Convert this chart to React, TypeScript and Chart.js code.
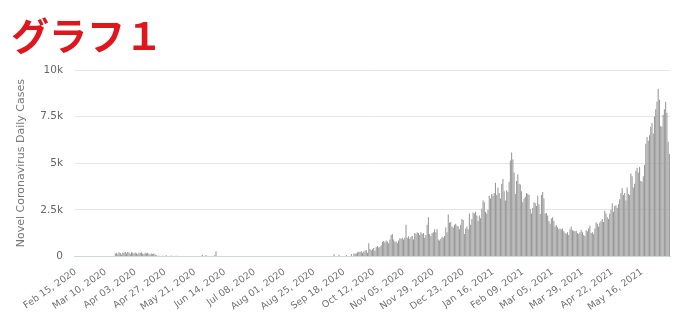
import React, { useEffect, useRef } from 'react';
import { Chart, registerables } from 'chart.js';

Chart.register(...registerables);

const startDate = '2020-02-15';

const feb2020 = [0, 0, 0, 0, 0, 0, 0, 0, 0, 0, 0, 0, 0, 0, 0];
const mar2020 = [0, 0, 0, 0, 0, 0, 0, 0, 0, 0, 0, 0, 0, 0, 0, 0, 0, 150, 200, 120, 220, 180, 100, 210, 190, 230, 150, 240, 200, 130, 220];
const apr2020 = [190, 150, 210, 170, 120, 200, 180, 220, 160, 110, 190, 170, 200, 140, 90, 150, 130, 160, 100, 60, 0, 50, 0, 0, 40, 0, 0, 60, 0, 0];
const may2020 = [0, 50, 0, 0, 0, 40, 0, 0, 0, 0, 0, 0, 0, 0, 0, 0, 0, 0, 0, 0, 0, 0, 0, 0, 0, 0, 90, 0, 0, 70, 0];
const jun2020 = [0, 0, 0, 0, 0, 60, 280, 0, 0, 0, 0, 0, 0, 0, 0, 0, 0, 0, 0, 0, 0, 0, 0, 0, 0, 0, 0, 0, 0, 0];
const jul2020 = [0, 0, 0, 0, 0, 0, 0, 0, 0, 0, 0, 0, 0, 0, 0, 0, 0, 0, 0, 0, 0, 0, 0, 0, 0, 0, 0, 0, 0, 0, 0];
const aug2020 = [0, 0, 0, 0, 0, 0, 0, 0, 0, 0, 0, 0, 0, 0, 0, 0, 0, 0, 0, 0, 0, 0, 0, 0, 0, 0, 0, 0, 0, 0, 0];
const sep2020 = [0, 0, 0, 0, 0, 0, 0, 0, 0, 120, 0, 0, 0, 90, 0, 0, 0, 0, 0, 80, 0, 0, 0, 130, 0, 150, 140, 160, 220, 250];
const oct2020 = [240, 280, 200, 260, 300, 350, 200, 700, 400, 330, 380, 450, 300, 500, 560, 480, 520, 600, 780, 820, 750, 850, 800, 700, 900, 1150, 1200, 900, 780, 800, 720];
const nov2020 = [850, 980, 950, 1000, 900, 1000, 1700, 1000, 1080, 950, 1050, 1100, 900, 1250, 1200, 1300, 1250, 1150, 1300, 1200, 1250, 1000, 1150, 1700, 2100, 1200, 1100, 1250, 1300, 1460];
const dec2020 = [1300, 1460, 900, 850, 950, 1050, 1000, 1100, 1550, 1300, 2250, 1800, 1850, 1600, 1550, 1700, 1750, 1650, 1600, 1460, 1700, 2000, 1950, 1200, 1500, 1600, 1450, 2300, 1700, 2000, 2350];
const jan2021 = [2300, 2400, 2200, 1900, 2200, 2050, 2550, 3000, 2900, 2400, 2300, 2500, 3250, 3100, 3350, 3250, 3400, 3950, 3300, 3700, 3400, 3100, 3880, 4150, 3500, 3000, 3550, 3450, 4000, 5150, 5580];
const feb2021 = [5200, 4500, 3350, 4050, 4400, 3900, 3860, 3500, 2900, 3100, 3200, 3400, 3350, 3300, 2540, 2300, 2600, 2900, 2850, 2700, 3250, 2800, 2280, 3300, 3450, 3100, 2300, 2330];
const mar2021 = [2200, 1900, 1760, 2030, 2100, 1900, 1600, 1680, 1570, 1450, 1500, 1440, 1500, 1350, 1250, 1210, 1300, 1150, 1450, 1600, 1400, 1380, 1350, 1380, 1250, 1200, 1300, 1420, 1300, 1150, 1100];
const apr2021 = [1400, 1350, 1500, 1640, 1250, 1300, 1200, 1500, 1830, 1750, 1600, 1800, 1900, 2000, 1850, 2450, 2300, 2100, 2000, 2300, 2500, 2850, 2400, 2700, 2750, 2600, 2800, 3070, 3400, 3650];
const may2021 = [3300, 3400, 3000, 3700, 3350, 3300, 4450, 4300, 3700, 3900, 4600, 4750, 4500, 4800, 4050, 4000, 4300, 4900, 6050, 6400, 6200, 6500, 6950, 7150, 6600, 7500, 7900, 8300, 9000, 8400, 7000];
const jun2021 = [6950, 7600, 7900, 8300, 7700, 6150, 5500];

const dailyCases = [
  ...feb2020, ...mar2020, ...apr2020, ...may2020, ...jun2020, ...jul2020, ...aug2020, ...sep2020,
  ...oct2020, ...nov2020, ...dec2020, ...jan2021, ...feb2021, ...mar2021, ...apr2021, ...may2021, ...jun2021,
];

const tickLabels = [
  'Feb 15, 2020', 'Mar 10, 2020', 'Apr 03, 2020', 'Apr 27, 2020', 'May 21, 2020', 'Jun 14, 2020',
  'Jul 08, 2020', 'Aug 01, 2020', 'Aug 25, 2020', 'Sep 18, 2020', 'Oct 12, 2020', 'Nov 05, 2020',
  'Nov 29, 2020', 'Dec 23, 2020', 'Jan 16, 2021', 'Feb 09, 2021', 'Mar 05, 2021', 'Mar 29, 2021',
  'Apr 22, 2021', 'May 16, 2021',
];

const yTicks = [0, 2500, 5000, 7500, 10000];
const yTickLabels = ['0', '2.5k', '5k', '7.5k', '10k'];

const titleText = 'グラフ１';
const yAxisTitle = 'Novel Coronavirus Daily Cases';

const MONTHS = ['Jan', 'Feb', 'Mar', 'Apr', 'May', 'Jun', 'Jul', 'Aug', 'Sep', 'Oct', 'Nov', 'Dec'];

function buildCategories(n: number): string[] {
  const start = new Date(startDate + 'T00:00:00Z');
  const out: string[] = [];
  for (let i = 0; i < n; i++) {
    const d = new Date(start.getTime() + i * 86400000);
    const dd = String(d.getUTCDate()).padStart(2, '0');
    out.push(`${MONTHS[d.getUTCMonth()]} ${dd}, ${d.getUTCFullYear()}`);
  }
  return out;
}

const categories = buildCategories(dailyCases.length);

export default function App() {
  const canvasRef = useRef<HTMLCanvasElement | null>(null);

  useEffect(() => {
    if (!canvasRef.current) return;
    const tickIdx = new Set(tickLabels.map((l) => categories.indexOf(l)));
    Chart.defaults.font.family = '"DejaVu Sans", sans-serif';
    const chart = new Chart(canvasRef.current, {
      type: 'bar',
      data: {
        labels: categories,
        datasets: [
          {
            data: dailyCases,
            backgroundColor: '#999999',
            borderWidth: 0,
            barPercentage: 0.85,
            categoryPercentage: 1,
          },
        ],
      },
      options: {
        animation: false,
        responsive: true,
        maintainAspectRatio: false,
        layout: { padding: { top: 70, left: 6, right: 10, bottom: 21 } },
        plugins: {
          legend: { display: false },
          tooltip: { enabled: false },
        },
        scales: {
          x: {
            grid: { display: false },
            border: { display: true, color: '#ccd6eb', width: 1 },
            afterBuildTicks: (scale: any) => {
              scale.ticks = scale.ticks.filter((t: any) => tickIdx.has(t.value));
            },
            ticks: {
              autoSkip: false,
              minRotation: 35,
              maxRotation: 35,
              color: '#707070',
              padding: 2,
              font: { size: 9.5 },
            },
          },
          y: {
            min: 0,
            max: 10000,
            afterBuildTicks: (scale: any) => {
              scale.ticks = yTicks.map((v) => ({ value: v }));
            },
            grid: { color: '#e6e6e6', drawTicks: false },
            border: { display: false },
            ticks: {
              color: '#666666',
              padding: 12,
              font: { size: 10.5 },
              callback: (v: any) => yTickLabels[yTicks.indexOf(Number(v))] ?? '',
            },
            title: {
              display: true,
              text: yAxisTitle,
              color: '#777777',
              font: { size: 11 },
              padding: { top: 9, bottom: 0 },
            },
          },
        },
      },
    });
    return () => chart.destroy();
  }, []);

  return (
    <div style={{ position: 'fixed', left: 0, top: 0, width: 680, height: 336, background: '#fff' }}>
      <canvas ref={canvasRef} style={{ position: 'absolute', left: 0, top: 0 }} />
      <div
        style={{
          position: 'absolute',
          left: 11,
          top: 15,
          color: '#e0161e',
          fontFamily: '"Noto Sans CJK JP", sans-serif',
          fontWeight: 700,
          fontSize: 38,
          lineHeight: 1,
          whiteSpace: 'nowrap',
        }}
      >
        {titleText}
      </div>
    </div>
  );
}
